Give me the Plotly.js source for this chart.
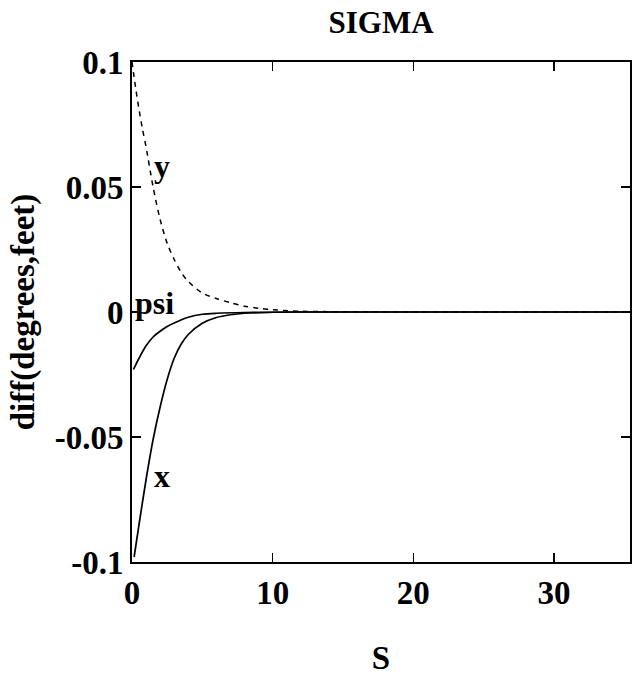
<!DOCTYPE html>
<html>
<head>
<meta charset="utf-8">
<script src="https://cdn.plot.ly/plotly-3.0.1.min.js"></script>
<style>html,body{margin:0;padding:0;background:#fff;}#chart{width:632px;height:678px;}</style>
</head>
<body>
<div id="chart"></div>
<script>
// y (dashed)
var sY = [0, 0.25, 0.5, 0.75, 1, 1.5, 2, 2.5, 3, 3.5, 4, 5, 6, 7, 8, 9, 10, 12, 15, 35.4];
var vY = [0.1, 0.09, 0.081, 0.073, 0.066, 0.05, 0.037, 0.0275, 0.021, 0.0158, 0.0122, 0.0076, 0.0054, 0.0037, 0.0023, 0.0015, 0.0009, 0.0003, 0.0001, 0];
// psi (solid)
var sPsi = [0.1, 0.5, 1, 1.5, 2, 2.5, 3, 4, 5, 6, 8, 10, 12, 35.4];
var vPsi = [-0.023, -0.0185, -0.0135, -0.01, -0.0077, -0.0058, -0.0044, -0.0021, -0.0009, -0.0005, -0.0002, -0.0001, 0, 0];
// x (solid)
var sX = [0.15, 0.5, 1, 1.5, 2, 2.5, 3, 3.5, 4, 5, 6, 7, 8, 10, 12, 35.4];
var vX = [-0.098, -0.085, -0.067, -0.051, -0.038, -0.027, -0.0185, -0.0128, -0.009, -0.0045, -0.0022, -0.0011, -0.0005, -0.0001, 0, 0];

var xTicks = [0, 10, 20, 30];
var yTicks = [-0.1, -0.05, 0, 0.05, 0.1];
var yTickText = ['-0.1', '-0.05', '0', '0.05', '0.1'];

var labelText = ['y', 'psi', 'x'];
var labelS = [1.4, 0.05, 1.45];
var labelV = [0.0585, 0.0035, -0.0656];

var serif = 'Liberation Serif, Times New Roman, serif';

var traces = [
  {x: sY, y: vY, mode: 'lines', line: {color: '#000', width: 1.5, dash: '5px,5px', shape: 'spline', smoothing: 0.8}, showlegend: false, hoverinfo: 'skip'},
  {x: sPsi, y: vPsi, mode: 'lines', line: {color: '#000', width: 1.7, shape: 'spline', smoothing: 0.8}, showlegend: false, hoverinfo: 'skip'},
  {x: sX, y: vX, mode: 'lines', line: {color: '#000', width: 1.7, shape: 'spline', smoothing: 0.8}, showlegend: false, hoverinfo: 'skip'}
];

var annotations = labelText.map(function(t, i){
  return {x: labelS[i], y: labelV[i], xref: 'x', yref: 'y', text: '<b>' + t + '</b>', showarrow: false,
    xanchor: 'left', yanchor: 'middle', font: {family: serif, size: 32, color: '#000'}};
});

var layout = {
  width: 632, height: 678,
  margin: {l: 132, r: 2, t: 62, b: 116},
  paper_bgcolor: '#fff', plot_bgcolor: '#fff',
  title: {text: '<b>SIGMA</b>', font: {family: serif, size: 31, color: '#000'}, x: 0.603, xanchor: 'center', y: 0.967, yanchor: 'middle'},
  xaxis: {
    range: [0, 35.4], tickvals: xTicks, ticktext: xTicks.map(String),
    ticks: 'inside', ticklen: 9, tickwidth: 1.5, tickcolor: '#000',
    showline: true, linecolor: '#000', linewidth: 2, mirror: 'ticks',
    showgrid: false, zeroline: false,
    tickfont: {family: serif, size: 33, color: '#000', weight: 'bold'},
    title: {text: '<b>S</b>', font: {family: serif, size: 33, color: '#000'}, standoff: 36}
  },
  yaxis: {
    range: [-0.1, 0.1], tickvals: yTicks, ticktext: yTickText,
    ticks: 'inside', ticklen: 9, tickwidth: 1.5, tickcolor: '#000',
    showline: true, linecolor: '#000', linewidth: 2, mirror: 'ticks',
    showgrid: false, zeroline: false,
    tickfont: {family: serif, size: 33, color: '#000', weight: 'bold'},
    title: {text: '<b>diff(degrees,feet)</b>', font: {family: serif, size: 33, color: '#000'}, standoff: 10}
  },
  annotations: annotations
};

Plotly.newPlot('chart', traces, layout, {displayModeBar: false, staticPlot: true});
</script>
</body>
</html>
